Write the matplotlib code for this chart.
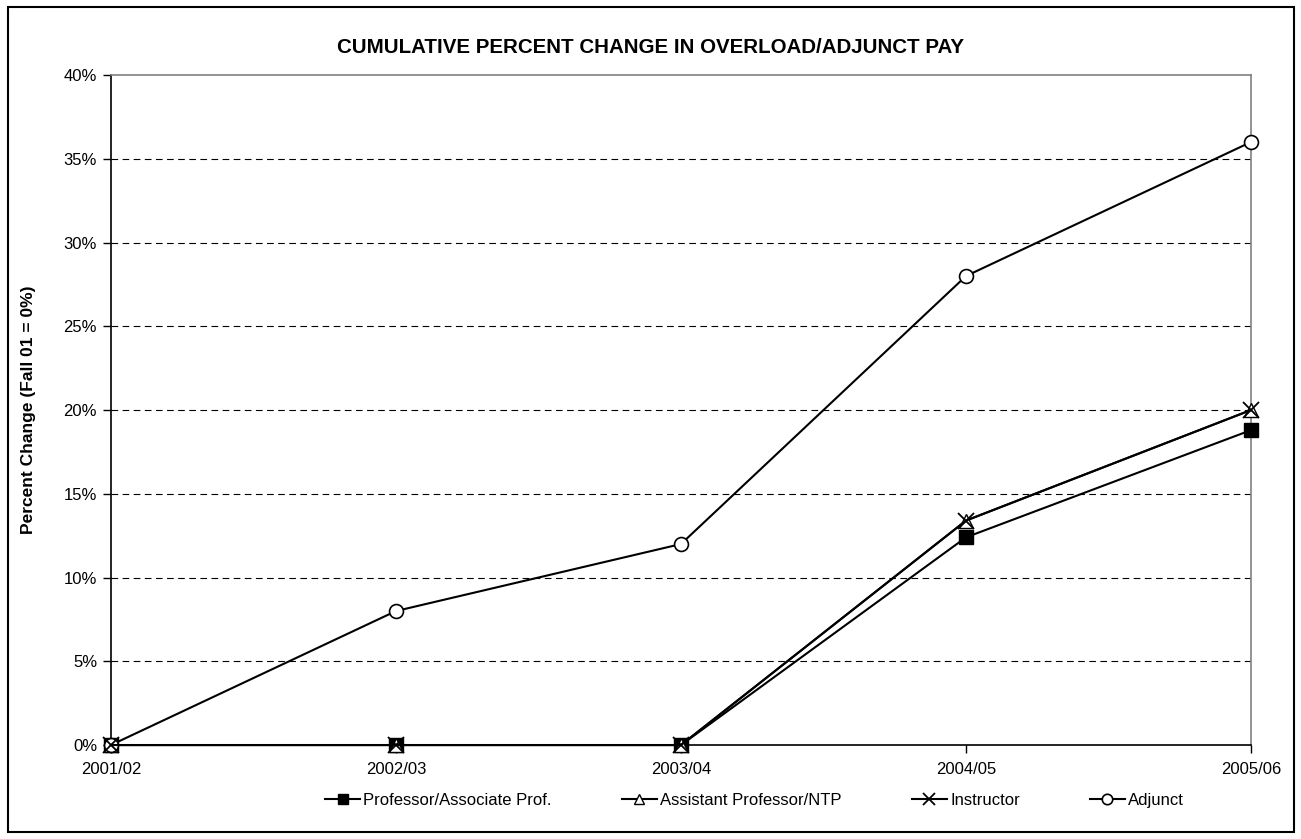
import matplotlib
matplotlib.use("Agg")
import matplotlib.pyplot as plt
from matplotlib.patches import Rectangle
from matplotlib.ticker import FuncFormatter, MultipleLocator

plt.rcParams['font.family'] = ['Liberation Sans', 'DejaVu Sans']

years = ["2001/02", "2002/03", "2003/04", "2004/05", "2005/06"]
professor = [0, 0, 0, 12.4, 18.8]
assistant = [0, 0, 0, 13.4, 20.0]
instructor = [0, 0, 0, 13.4, 20.0]
adjunct = [0, 8, 12, 28, 36]

fig = plt.figure(figsize=(13.01, 8.39), dpi=100)
ax = fig.add_axes([0.0853, 0.112, 0.8763, 0.7986])

x = list(range(len(years)))
ax.plot(x, professor, color='black', lw=1.5, marker='s', ms=10, mfc='black', mec='black',
        label='Professor/Associate Prof.', zorder=3, clip_on=False)
ax.plot(x, assistant, color='black', lw=1.5, marker='^', ms=10, mfc='white', mec='black',
        label='Assistant Professor/NTP', zorder=3, clip_on=False)
ax.plot(x, instructor, color='black', lw=1.5, marker='x', ms=11, mew=1.3, mec='black',
        label='Instructor', zorder=4, clip_on=False)
ax.plot(x, adjunct, color='black', lw=1.5, marker='o', ms=10, mfc='white', mec='black', mew=1.2,
        label='Adjunct', zorder=3, clip_on=False)

ax.set_xlim(0, 4)
ax.set_ylim(0, 40)
ax.yaxis.set_major_locator(MultipleLocator(5))
ax.yaxis.set_major_formatter(FuncFormatter(lambda v, p: f"{int(v)}%"))
ax.set_xticks(x)
ax.set_xticklabels(years)
ax.tick_params(axis='both', labelsize=12, direction='out', length=6, width=1, color='black')
ax.tick_params(axis='x', pad=6)
ax.tick_params(axis='y', pad=4)

for v in range(5, 40, 5):
    ax.axhline(v, color='black', lw=0.8, ls=(0, (6, 4)), zorder=1)

ax.spines['left'].set_color('black')
ax.spines['bottom'].set_color('black')
ax.spines['top'].set_color('#808080')
ax.spines['right'].set_color('#808080')
for s in ax.spines.values():
    s.set_linewidth(1.2)

ax.set_ylabel('Percent Change (Fall 01 = 0%)', fontsize=12.5, fontweight='bold', labelpad=20)
fig.text(0.5, 0.943, 'CUMULATIVE PERCENT CHANGE IN OVERLOAD/ADJUNCT PAY', ha='center', va='center',
         fontsize=14.8, fontweight='bold')

leg = fig.legend(loc='center', bbox_to_anchor=(0.58, 0.046), ncol=4, frameon=False,
                 fontsize=12, handlelength=2.1, handletextpad=0.2, columnspacing=4.2,
                 markerscale=0.75)

fig.patches.append(Rectangle((8/1301, 7/839), (1294-8)/1301, (832-7)/839, transform=fig.transFigure,
                             fill=False, edgecolor='black', lw=1.5))

fig.savefig('out.png', dpi=100)
